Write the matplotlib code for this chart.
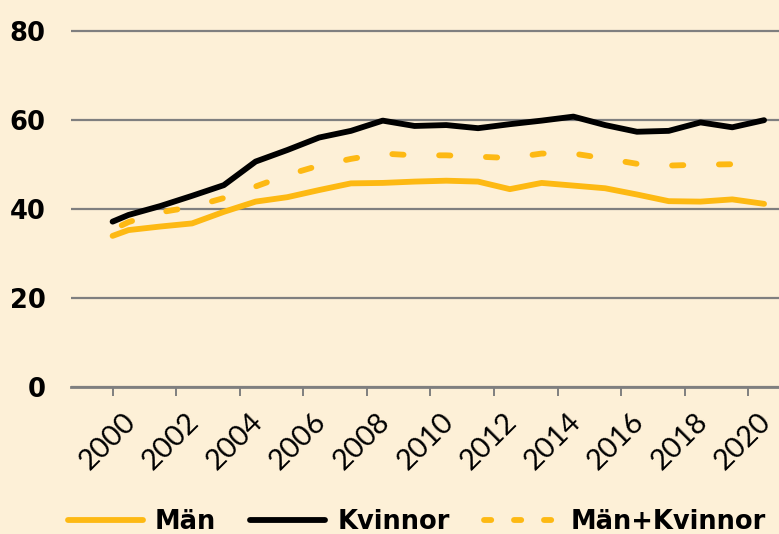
import matplotlib
matplotlib.use("Agg")
import matplotlib.pyplot as plt
from matplotlib.lines import Line2D
from matplotlib.transforms import ScaledTranslation
import numpy as np

# ---- data ----
x_first = 2000.0
years = list(range(2000, 2021))           # each value plotted mid-year
tick_years = list(range(2000, 2021, 2))
tick_labels = [str(y) for y in tick_years]

man_start = 33.9
man = [35.2, 36.0, 36.7, 39.3, 41.6, 42.6, 44.2, 45.7, 45.8, 46.1, 46.3,
       46.1, 44.4, 45.8, 45.2, 44.6, 43.2, 41.7, 41.6, 42.1, 41.1]

kvinnor_start = 37.1
kvinnor = [38.6, 40.6, 42.9, 45.3, 50.6, 53.2, 56.0, 57.5, 59.8, 58.6, 58.8,
           58.1, 59.0, 59.8, 60.7, 58.8, 57.3, 57.5, 59.4, 58.3, 59.9]

total_start = 35.3
total = [37.0, 39.2, 40.4, 42.4, 45.0, 47.6, 49.7, 51.2, 52.4, 52.0, 52.0,
         51.7, 51.4, 52.4, 52.4, 51.3, 50.1, 49.7, 49.9, 50.0, 50.2]

labels = ["Män", "Kvinnor", "Män+Kvinnor"]

# ---- style ----
BG = "#fdf0d7"
YEL = "#fdb913"
BLK = "#000000"
GRID = "#7f7f7f"
LW = 4.2

fig = plt.figure(figsize=(7.79, 5.34), dpi=100, facecolor=BG)
ax = fig.add_axes([0.0907, 0.2758, 1 - 0.0907, 0.9466 - 0.2758])
ax.set_facecolor(BG)

xs = [x_first] + [y + 0.5 for y in years]

ax.plot(xs, [man_start] + man, color=YEL, lw=LW, solid_capstyle="round",
        solid_joinstyle="round", zorder=3)
ax.plot(xs, [kvinnor_start] + kvinnor, color=BLK, lw=LW, solid_capstyle="round",
        solid_joinstyle="round", zorder=4)
ax.plot(xs, [total_start] + total, color=YEL, lw=LW,
        linestyle=(6.3, (1.93, 6.1)), dash_capstyle="round", zorder=5)

ax.set_xlim(1998.68, 2020.97)
ax.set_ylim(0, 80.5)

ax.set_yticks([0, 20, 40, 60, 80])
ax.set_yticklabels(["0", "20", "40", "60", "80"], fontsize=18.5,
                   fontweight="bold", family="DejaVu Sans")
ax.yaxis.grid(True, color=GRID, lw=1.6)
ax.tick_params(axis="y", length=0, pad=18)

ax.set_xticks(tick_years)
ax.set_xticklabels(tick_labels, rotation=45, ha="center", fontsize=21,
                   family="Lato")
ax.tick_params(axis="x", length=6.5, width=1.4, color=GRID, pad=9)
shift = ScaledTranslation(-5 / 100, 0, fig.dpi_scale_trans)
for lab in ax.get_xticklabels():
    lab.set_transform(lab.get_transform() + shift)

for s in ["top", "right", "left"]:
    ax.spines[s].set_visible(False)
ax.spines["bottom"].set_color(GRID)
ax.spines["bottom"].set_linewidth(2.0)
ax.spines["bottom"].set_zorder(2)
ax.set_axisbelow(True)

handles = [
    Line2D([], [], color=YEL, lw=LW, solid_capstyle="round"),
    Line2D([], [], color=BLK, lw=LW, solid_capstyle="round"),
    Line2D([], [], color=YEL, lw=LW, linestyle=(0, (1.24, 3.9)),
           dash_capstyle="round"),
]
fig.legend(handles, labels, loc="center", bbox_to_anchor=(417 / 779, 1 - 522 / 534),
           ncol=3, frameon=False, handlelength=2.92, handletextpad=0.47,
           columnspacing=1.32, borderpad=0,
           prop={"family": "DejaVu Sans", "weight": "bold", "size": 18.5})

fig.savefig("out.png", dpi=100, facecolor=BG)
